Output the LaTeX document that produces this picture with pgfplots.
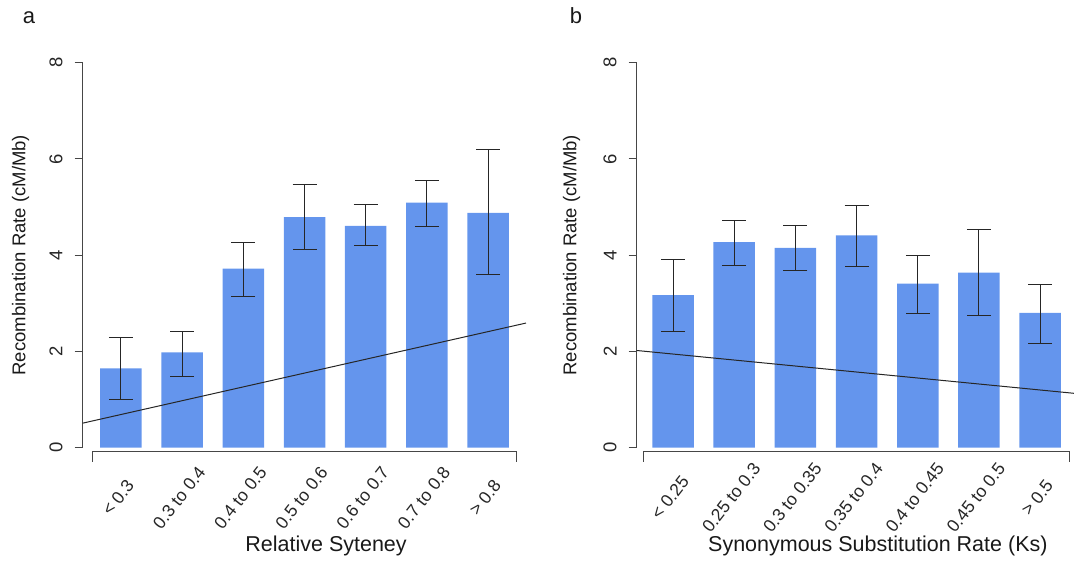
\documentclass[border=0pt]{standalone}
\usepackage{fontspec}
\setmainfont{Liberation Sans}
\usepackage{pgfplots}
\usepackage{pgfplotstable}
\pgfplotsset{compat=1.18}
\definecolor{barblue}{RGB}{100,149,237}
\definecolor{axgray}{RGB}{70,70,70}

\pgfplotstableread{
x y ep em
0 1.65 0.65 0.64
1 1.98 0.44 0.50
2 3.72 0.55 0.58
3 4.79 0.68 0.68
4 4.61 0.44 0.40
5 5.09 0.46 0.49
6 4.88 1.31 1.29
}\dataA

\pgfplotstableread{
x y ep em
0 3.17 0.74 0.75
1 4.27 0.46 0.49
2 4.15 0.46 0.47
3 4.41 0.62 0.65
4 3.41 0.59 0.62
5 3.64 0.89 0.90
6 2.80 0.59 0.64
}\dataB

\pgfplotsset{
  rr/.style={
    scale only axis, width=443.3pt, height=385pt,
    ymin=0, ymax=8, enlargelimits=false, clip=false,
    axis y line=left, axis x line=bottom,
    axis line style={-},
    x axis line style={draw=none},
    y axis line style={axgray, line width=1pt},
    xtick={0,1,2,3,4,5,6},
    xtick style={draw=none},
    ytick={0,2,4,6,8}, yticklabels={0,2,4,6,8},
    tick align=outside, major tick length=8pt,
    ytick style={axgray, line width=1pt},
    yticklabel style={rotate=90, anchor=south, inner sep=0pt, font=\fontsize{18.5}{20}\selectfont, text=black!85},
    yticklabel shift=12pt,
    xticklabel style={anchor=center, xshift=-3pt, yshift=-42pt, rotate=52, inner sep=0pt, font=\fontsize{17.5}{19}\selectfont, text=black!85},
    ylabel={Recombination Rate (cM/Mb)},
    every axis y label/.style={at={(rel axis cs:0,0.5)}, rotate=90, anchor=center, font=\fontsize{18.5}{20}\selectfont, text=black!90},
    every axis x label/.style={anchor=base, font=\fontsize{21.5}{24}\selectfont, text=black!90},
  }
}

\begin{document}
\begin{tikzpicture}
\path[use as bounding box] (0pt,0pt) rectangle (1074pt,563pt);

% Panel a
\begin{axis}[rr, at={(82.7pt,115.3pt)}, anchor=south west,
  xmin=-0.626, xmax=6.62,
  xticklabels={\textless{} 0.3, 0.3 to 0.4, 0.4 to 0.5, 0.5 to 0.6, 0.6 to 0.7, 0.7 to 0.8, \textgreater{} 0.8},
  xlabel={Relative Syteney},
  xlabel style={at={([yshift=-103.3pt]rel axis cs:0.549,0)}},
  ylabel style={at={([xshift=-62pt]rel axis cs:0,0.5)}},
]
\addplot[ybar, bar width=41.5pt, fill=barblue, draw=none,
  error bars/.cd, y dir=both, y explicit,
  error bar style={black!85, line width=1pt},
  error mark options={rotate=90, mark size=12pt, black!85, line width=1pt}]
  table[x=x, y=y, y error plus=ep, y error minus=em]{\dataA};
\addplot[black!85, line width=1pt] coordinates {(-0.626,0.51) (6.62,2.59)};
\draw[axgray, line width=1pt] (axis cs:-0.46,-0.29) -- (axis cs:-0.46,-0.083) -- (axis cs:6.47,-0.083) -- (axis cs:6.47,-0.29);
\end{axis}

% Panel b
\begin{axis}[rr, at={(636.7pt,115.3pt)}, anchor=south west,
  xmin=-0.594, xmax=6.652,
  xticklabels={\textless{} 0.25, 0.25 to 0.3, 0.3 to 0.35, 0.35 to 0.4, 0.4 to 0.45, 0.45 to 0.5, \textgreater{} 0.5},
  xlabel={Synonymous Substitution Rate (Ks)},
  xlabel style={at={([yshift=-103.3pt]rel axis cs:0.544,0)}},
  ylabel style={at={([xshift=-65pt]rel axis cs:0,0.5)}},
]
\addplot[ybar, bar width=41.5pt, fill=barblue, draw=none,
  error bars/.cd, y dir=both, y explicit,
  error bar style={black!85, line width=1pt},
  error mark options={rotate=90, mark size=12pt, black!85, line width=1pt}]
  table[x=x, y=y, y error plus=ep, y error minus=em]{\dataB};
\addplot[black!85, line width=1pt] coordinates {(-0.594,2.02) (6.652,1.118)};
\draw[axgray, line width=1pt] (axis cs:-0.475,-0.29) -- (axis cs:-0.475,-0.083) -- (axis cs:6.477,-0.083) -- (axis cs:6.477,-0.29);
\end{axis}

\node[font=\fontsize{22}{24}\selectfont, text=black!90] at (29pt,545pt) {a};
\node[font=\fontsize{22}{24}\selectfont, text=black!90] at (576pt,547pt) {b};
\end{tikzpicture}
\end{document}
